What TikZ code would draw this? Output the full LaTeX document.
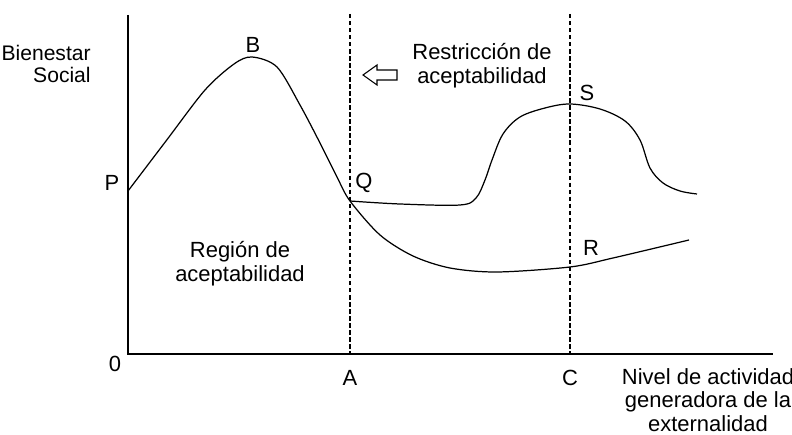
\documentclass[tikz,border=0pt]{standalone}
\usepackage{fontspec}
\setmainfont{Liberation Sans}
\usetikzlibrary{positioning}

\begin{document}
\begin{tikzpicture}[x=0.02cm,y=-0.02cm,
    lbl/.style={font=\fontsize{12.5}{13.5}\selectfont, inner sep=0pt},
    txt/.style={lbl, align=center},
    curve/.style={line width=0.7pt},
    guide/.style={line width=0.6pt, dash pattern=on 2.5pt off 1.5pt}]
    \useasboundingbox (0,0) rectangle (792,435);
    % axes
    \coordinate (O) at (128,354);
    \coordinate (ytop) at (128,15);
    \coordinate (xend) at (773,354);
    \draw[curve] (ytop) -- (O) -- (xend);
    % dashed lines at A and C
    \coordinate (Atop) at (350,14);
    \coordinate (Abot) at (350,354);
    \coordinate (Ctop) at (570,14);
    \coordinate (Cbot) at (570,354);
    \draw[guide] (Atop) -- (Abot);
    \draw[guide] (Ctop) -- (Cbot);
    % points on the curves
    \coordinate (p) at (128,191);
    \coordinate (b) at (252,57);
    \coordinate (q) at (350,201);
    \coordinate (r) at (570,267);
    \coordinate (s) at (570,104);
    \draw[curve] plot[smooth, tension=0.5] coordinates {(p) (166,141) (205,90) (234,64) (b) (277,67) (300,105) (320,143) (337,177) (q) (380,235) (413,256) (450,268) (497,272) (r) (613,258) (689,240)};
    \draw[curve] plot[smooth, tension=0.55] coordinates {(q) (400,204) (460,205) (476,198) (485,180) (492,160) (503,134) (520,117) (545,108) (s) (600,109) (625,121) (640,140) (650,168) (663,183) (680,191) (697,194)};
    % hollow arrow
    \draw[line width=0.6pt] (363,75) -- (377,65) -- (377,70) -- (397,70) -- (397,80) -- (377,80) -- (377,85) -- cycle;
    % labels
    \node[lbl] (P) at (112,183) {P};
    \node[lbl] (B) at (253,45) {B};
    \node[lbl] (Q) at (364,183) {Q};
    \node[lbl] (S) at (587,93) {S};
    \node[lbl] (R) at (591,248) {R};
    \node[lbl] (zero) at (115,364) {0};
    \node[lbl] (A) at (350,378) {A};
    \node[lbl] (C) at (570,378) {C};
    \node[lbl, font=\fontsize{12}{13}\selectfont, align=right, anchor=east] (bien) at (91,64) {Bienestar\\Social};
    \node[txt] (restr) at (482,66) {Restricción de\\aceptabilidad};
    \node[txt] (region) at (240,264) {Región de\\aceptabilidad};
    \node[txt] (nivel) at (708,400) {Nivel de actividad\\generadora de la\\externalidad};
\end{tikzpicture}
\end{document}
